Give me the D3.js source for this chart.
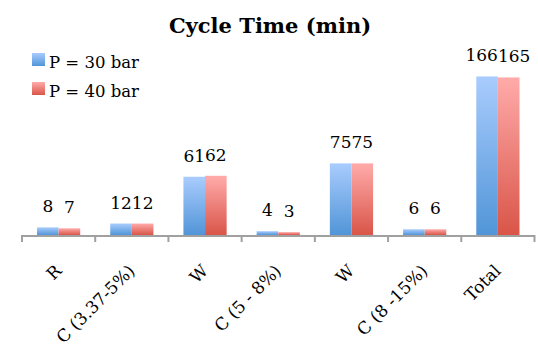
<!DOCTYPE html>
<html>
<head>
<meta charset="utf-8">
<script src="https://cdn.jsdelivr.net/npm/d3@7"></script>
<style>
  body { margin: 0; background: #fff; }
  text { font-family: "DejaVu Serif", serif; fill: #000; }
</style>
</head>
<body>
<svg id="chart" width="538" height="349"></svg>
<script>
// Data
const categories = ["R", "C (3.37-5%)", "W", "C (5 - 8%)", "W", "C (8 -15%)", "Total"];
const p30 = [8, 12, 61, 4, 75, 6, 166];
const p40 = [7, 12, 62, 3, 75, 6, 165];
const series = [
  { name: "P = 30 bar", values: p30, grad: "grad_blue" },
  { name: "P = 40 bar", values: p40, grad: "grad_red" }
];

const svg = d3.select("#chart");
const baseline = 235;

// Gradients
const defs = svg.append("defs");
function add_gradient(id, top, bottom) {
  const g = defs.append("linearGradient").attr("id", id)
    .attr("x1", 0).attr("y1", 0).attr("x2", 0).attr("y2", 1);
  g.append("stop").attr("offset", "0%").attr("stop-color", top);
  g.append("stop").attr("offset", "100%").attr("stop-color", bottom);
}
add_gradient("grad_blue", "#a9ccfd", "#5195d8");
add_gradient("grad_red", "#ffabaa", "#d95548");

// Scales
const x = d3.scaleBand().domain(d3.range(categories.length)).range([22, 534.5]);
const inner = d3.scaleBand().domain(d3.range(series.length))
  .range([15, x.bandwidth() - 15]);
const y = d3.scaleLinear().domain([0, 180]).range([baseline, baseline - 180 * 0.955]);

// Title
svg.append("text")
  .attr("x", 270).attr("y", 33)
  .attr("text-anchor", "middle")
  .style("font-size", "21px").style("font-weight", "bold")
  .text("Cycle Time (min)");

// Bars
series.forEach(function (s, si) {
  const g = svg.append("g").attr("class", "series");
  g.selectAll("rect")
    .data(s.values)
    .enter()
    .append("rect")
    .attr("x", (d, i) => x(i) + inner(si))
    .attr("y", d => y(d))
    .attr("width", inner.bandwidth())
    .attr("height", d => baseline - y(d))
    .style("fill", "url(#" + s.grad + ")");

  // Value labels: centred on the bar, pushed apart when wider than the bar
  g.selectAll("text")
    .data(s.values)
    .enter()
    .append("text")
    .attr("y", d => y(d) - 15)
    .attr("text-anchor", "middle")
    .style("font-size", "17px")
    .text(d => d)
    .attr("x", function (d, i) {
      const w = this.getComputedTextLength();
      const mid = x(i) + x.bandwidth() / 2;
      const cx = x(i) + inner(si) + inner.bandwidth() / 2;
      return si === 0 ? Math.min(cx, mid - w / 2) : Math.max(cx, mid + w / 2);
    });
});

// Axis
const axis = svg.append("g").attr("class", "axis");
axis.append("line")
  .attr("x1", x.range()[0]).attr("x2", x.range()[1])
  .attr("y1", baseline + 1).attr("y2", baseline + 1)
  .style("stroke", "#a0a0a0").style("stroke-width", 2);
axis.selectAll("line.tick")
  .data(d3.range(categories.length + 1))
  .enter()
  .append("line")
  .attr("class", "tick")
  .attr("x1", i => x.range()[0] + i * x.step())
  .attr("x2", i => x.range()[0] + i * x.step())
  .attr("y1", baseline).attr("y2", baseline + 7)
  .style("stroke", "#a0a0a0").style("stroke-width", 2);

axis.selectAll("text")
  .data(categories)
  .enter()
  .append("text")
  .attr("transform", (d, i) =>
    "translate(" + (x(i) + x.bandwidth() / 2 + 4) + "," + 272 + ") rotate(-45)")
  .attr("text-anchor", "end")
  .style("font-size", "17px")
  .text(d => d);

// Legend
const legend = svg.append("g").attr("id", "legend");
const entry = legend.selectAll("g")
  .data(series)
  .enter()
  .append("g")
  .attr("transform", (d, i) => "translate(32," + (53 + i * 29) + ")");
entry.append("rect")
  .attr("width", 13).attr("height", 13)
  .style("fill", d => "url(#" + d.grad + ")");
entry.append("text")
  .attr("x", 17).attr("y", 15)
  .style("font-size", "16.5px")
  .text(d => d.name);
</script>
</body>
</html>
